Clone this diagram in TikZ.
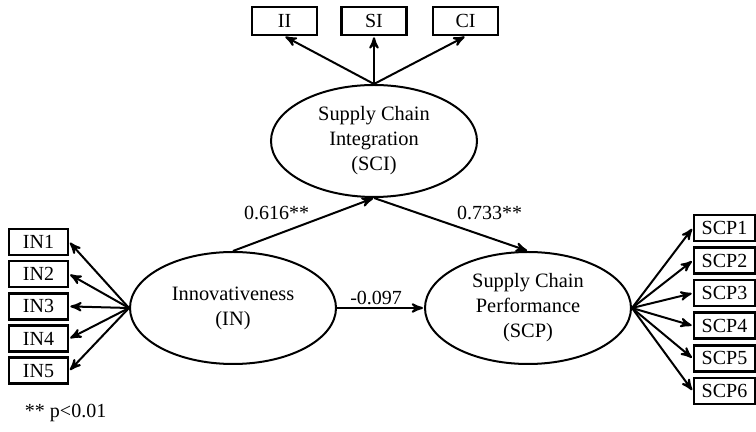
\documentclass[tikz,border=0pt]{standalone}
\usepackage{fontspec}
\setmainfont{Liberation Serif}
\usetikzlibrary{arrows,positioning,shapes.geometric}

\tikzset{
    latent/.style={ellipse, draw, line width=1pt, minimum width=103pt, minimum height=56pt,
        inner sep=0pt, align=center, font=\fontsize{10.2}{12.5}\selectfont},
    item/.style={rectangle, draw, line width=1.3pt, minimum width=29.5pt, minimum height=13pt,
        inner sep=0pt, font=\fontsize{10}{12}\selectfont},
    coef/.style={font=\fontsize{10}{12}\selectfont, inner sep=1pt}
}

\begin{document}
\begin{tikzpicture}[x=0.5pt,y=-0.5pt,>=stealth',shorten >=0.5pt,line width=1pt]
    \useasboundingbox (0,0) rectangle (756,432);

    \node[latent] (sci) at (374,141) {Supply Chain\\Integration\\(SCI)};
    \node[latent] (inv) at (233,308) {Innovativeness\\(IN)};
    \node[latent] (scp) at (528,308) {Supply Chain\\Performance\\(SCP)};

    % indicators of SCI
    \node[item, minimum width=32.5pt, minimum height=14pt] (ii) at (284.5,21) {II};
    \node[item, minimum width=32.5pt, minimum height=14pt, node distance=44.75pt] (si) [right of=ii] {SI};
    \node[item, minimum width=32.5pt, minimum height=14pt, node distance=45.75pt] (ci) [right of=si] {CI};

    % indicators of IN
    \begin{scope}[node distance=16.1pt]
    \node[item] (in1) at (38.5,242) {IN1};
    \node[item] (in2) [below of=in1] {IN2};
    \node[item] (in3) [below of=in2] {IN3};
    \node[item] (in4) [below of=in3] {IN4};
    \node[item] (in5) [below of=in4] {IN5};
    \end{scope}

    % indicators of SCP
    \begin{scope}[node distance=16.3pt]
    \node[item, minimum width=30.5pt] (scp1) at (724.5,228) {SCP1};
    \node[item, minimum width=30.5pt] (scp2) [below of=scp1] {SCP2};
    \node[item, minimum width=30.5pt] (scp3) [below of=scp2] {SCP3};
    \node[item, minimum width=30.5pt] (scp4) [below of=scp3] {SCP4};
    \node[item, minimum width=30.5pt] (scp5) [below of=scp4] {SCP5};
    \node[item, minimum width=30.5pt] (scp6) [below of=scp5] {SCP6};
    \end{scope}

    \node[coef, anchor=west] (note) at (22,413) {** p<0.01};

    % structural paths
    \path[->] (inv.north) edge node[coef, pos=0.31, anchor=south, yshift=6pt] {0.616**} (sci.south);
    \path[->] (sci.south) edge node[coef, pos=0.75, anchor=south, yshift=7.5pt] {0.733**} (scp.north);
    \path[->] (inv.east) edge node[coef, above, pos=0.45] {-0.097} (scp.west);

    % measurement paths
    \path[->] (sci.north) edge (ii.south)
                          edge (si.south)
                          edge (ci.south);
    \path[->] (inv.west) edge (in1.east)
                         edge (in2.east)
                         edge (in3.east)
                         edge (in4.east)
                         edge (in5.east);
    \path[->] (scp.east) edge (scp1.west)
                         edge (scp2.west)
                         edge (scp3.west)
                         edge (scp4.west)
                         edge (scp5.west)
                         edge (scp6.west);
\end{tikzpicture}
\end{document}
